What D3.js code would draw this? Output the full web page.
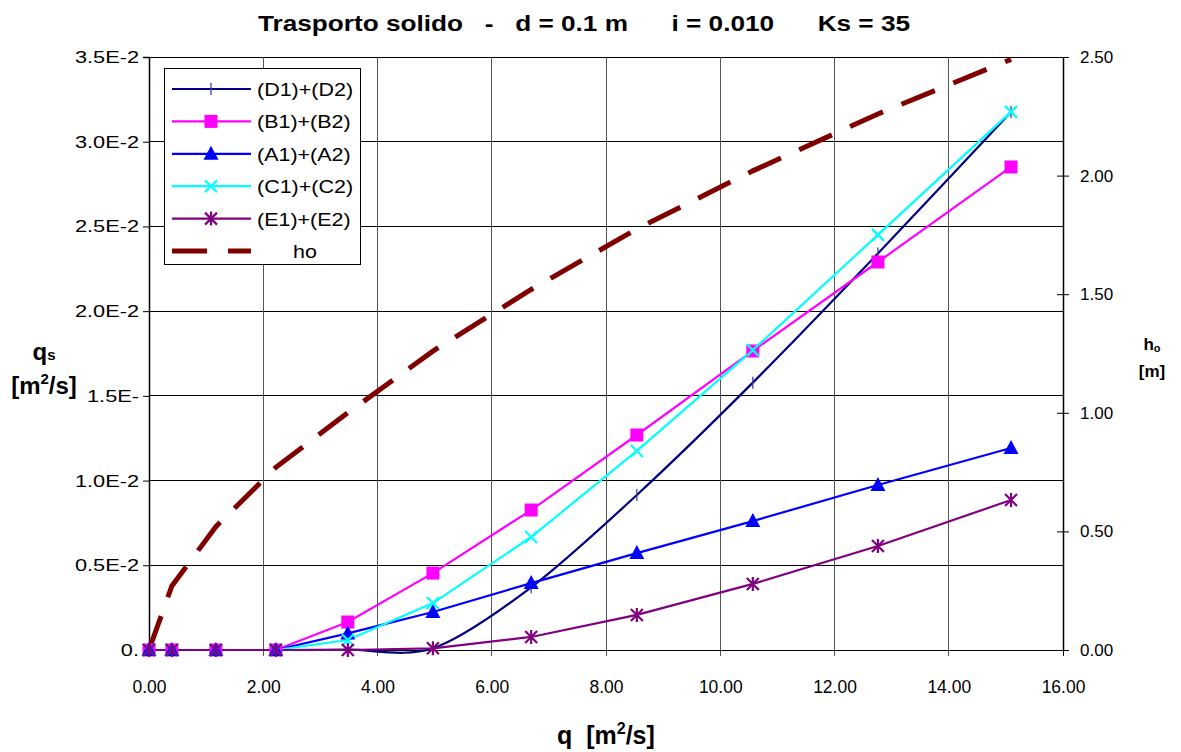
<!DOCTYPE html>
<html><head><meta charset="utf-8">
<script src="https://cdn.jsdelivr.net/npm/d3@7"></script>
<style>
html,body{margin:0;padding:0;background:#fff;}
svg{display:block;font-family:"Liberation Sans",Arial,sans-serif;}
</style></head>
<body><svg id="c" width="1181" height="752"></svg>
<script>
// ---- data ----
const q = [0, 0.40, 1.17, 2.22, 3.48, 4.97, 6.69, 8.54, 10.57, 12.76, 15.09];
const qsD = [0, 0, 0, 0, 0.00002, 0.0001, 0.0037, 0.00915, 0.01578, 0.0234, 0.03176];
const qsB = [0, 0, 0, 0, 0.00165, 0.00454, 0.00826, 0.01269, 0.01765, 0.0229, 0.02851];
const qsA = [0, 0, 0, 0, 0.00098, 0.00224, 0.00395, 0.00572, 0.00761, 0.00974, 0.01192];
const qsC = [0, 0, 0, 0, 0.00059, 0.00277, 0.00667, 0.01175, 0.0177, 0.0245, 0.03176];
const qsE = [0, 0, 0, 0, 0, 0.0001, 0.00077, 0.00207, 0.0039, 0.00614, 0.00885];
const ho  = [0, 0.27, 0.52, 0.77, 1.00, 1.26, 1.52, 1.775, 2.02, 2.26, 2.49];
const seriesNames = ["(D1)+(D2)", "(B1)+(B2)", "(A1)+(A2)", "(C1)+(C2)", "(E1)+(E2)", "ho"];
const xTicks = [0, 2, 4, 6, 8, 10, 12, 14, 16];
const xTickLabels = ["0.00","2.00","4.00","6.00","8.00","10.00","12.00","14.00","16.00"];
const leftTicks = [0, 0.005, 0.010, 0.015, 0.020, 0.025, 0.030, 0.035];
const leftTickLabels = ["0.", "0.5E-2", "1.0E-2", "1.5E-", "2.0E-2", "2.5E-2", "3.0E-2", "3.5E-2"];
const rightTicks = [0, 0.5, 1.0, 1.5, 2.0, 2.5];
const rightTickLabels = ["0.00","0.50","1.00","1.50","2.00","2.50"];
const titleText = "Trasporto solido   -   d = 0.1 m      i = 0.010      Ks = 35";

// ---- layout ----
const L = 149, R = 1063, T = 57, B = 650;
const svg = d3.select("#c");
const x = d3.scaleLinear().domain([0, 16]).range([L, R]);
const yL = d3.scaleLinear().domain([0, 0.035]).range([B, T]);
const yR = d3.scaleLinear().domain([0, 2.5]).range([B, T]);

function stretch(sel, k) {
  sel.each(function () { const w = this.getComputedTextLength(); d3.select(this).attr("textLength", w * k).attr("lengthAdjust", "spacingAndGlyphs"); });
}

// grid
const grid = svg.append("g");
grid.selectAll(".hg").data(leftTicks).join("line")
  .attr("x1", L).attr("x2", R).attr("y1", d => yL(d)).attr("y2", d => yL(d))
  .attr("stroke", "#000").attr("stroke-width", 1).attr("shape-rendering","crispEdges");
grid.selectAll(".vg").data(xTicks).join("line")
  .attr("x1", d => x(d)).attr("x2", d => x(d)).attr("y1", T).attr("y2", B + 6)
  .attr("stroke", d => (d === 0 || d === 16) ? "#000" : "#555").attr("stroke-width", 1)
  .attr("shape-rendering","crispEdges");

// left axis
const axL = svg.append("g").attr("transform", `translate(${L},0)`)
  .call(d3.axisLeft(yL).tickValues(leftTicks).tickFormat((d, i) => leftTickLabels[i]).tickSize(6).tickPadding(4));
axL.select(".domain").attr("stroke", "#000").attr("stroke-width", 1.5);
axL.selectAll(".tick line").attr("stroke", "#000");
axL.selectAll("text").attr("font-size", 17).attr("fill", "#000").attr("font-family", "Liberation Sans, Arial, sans-serif").call(stretch, 1.28);

// right axis
const axR = svg.append("g").attr("transform", `translate(${R},0)`)
  .call(d3.axisRight(yR).tickValues(rightTicks).tickFormat((d, i) => rightTickLabels[i]).tickSizeInner(6).tickSizeOuter(0).tickPadding(11));
axR.select(".domain").attr("stroke", "#000").attr("stroke-width", 1.5);
axR.selectAll(".tick line").attr("x1", -6).attr("x2", 6).attr("stroke", "#000");
axR.selectAll("text").attr("font-size", 17).attr("fill", "#000").attr("font-family", "Liberation Sans, Arial, sans-serif");

// bottom axis
const axB = svg.append("g").attr("transform", `translate(0,${B})`)
  .call(d3.axisBottom(x).tickValues(xTicks).tickFormat((d, i) => xTickLabels[i]).tickSize(0).tickPadding(30));
axB.select(".domain").attr("stroke", "#000").attr("stroke-width", 1);
axB.selectAll("text").attr("font-size", 18).attr("fill", "#000").attr("font-family", "Liberation Sans, Arial, sans-serif").call(stretch, 0.97);

// series
const series = [
  { name: seriesNames[0], vals: qsD, color: "#000080", marker: "tick", curve: d3.curveCardinal.tension(0.1) },
  { name: seriesNames[1], vals: qsB, color: "#FF00FF", marker: "square", curve: d3.curveLinear },
  { name: seriesNames[2], vals: qsA, color: "#0000FF", marker: "triangle", curve: d3.curveLinear },
  { name: seriesNames[3], vals: qsC, color: "#00FFFF", marker: "x", curve: d3.curveLinear },
  { name: seriesNames[4], vals: qsE, color: "#800080", marker: "star", curve: d3.curveLinear }
];

function drawMarker(g, type, color, cx, cy) {
  if (type === "tick") {
    g.append("line").attr("x1", cx).attr("x2", cx).attr("y1", cy - 6).attr("y2", cy + 6).attr("stroke", "#4040a0").attr("stroke-width", 1.3);
  } else if (type === "square") {
    g.append("rect").attr("x", cx - 6.5).attr("y", cy - 6.5).attr("width", 13).attr("height", 13).attr("fill", color);
  } else if (type === "triangle") {
    g.append("path").attr("d", `M${cx},${cy - 8}L${cx + 7.5},${cy + 6}L${cx - 7.5},${cy + 6}Z`).attr("fill", color);
  } else if (type === "x") {
    g.append("path").attr("d", `M${cx - 6},${cy - 6}L${cx + 6},${cy + 6}M${cx + 6},${cy - 6}L${cx - 6},${cy + 6}`).attr("stroke", color).attr("stroke-width", 2.2);
  } else if (type === "star") {
    g.append("path").attr("d", `M${cx - 6},${cy - 6}L${cx + 6},${cy + 6}M${cx + 6},${cy - 6}L${cx - 6},${cy + 6}M${cx},${cy - 7}L${cx},${cy + 7}`).attr("stroke", color).attr("stroke-width", 2.2);
  }
}

// ho dashed line (right axis)
const hoLine = d3.line().x((d, i) => x(q[i])).y(d => yR(d)).curve(d3.curveLinear);
svg.append("path").attr("d", hoLine(ho)).attr("fill", "none").attr("stroke", "#800000")
  .attr("stroke-width", 5).attr("stroke-dasharray", "36,20");

const sg = svg.append("g");
series.forEach(s => {
  const line = d3.line().x((d, i) => x(q[i])).y(d => yL(d)).curve(s.curve);
  sg.append("path").attr("d", line(s.vals)).attr("fill", "none").attr("stroke", s.color).attr("stroke-width", 2.2);
});
series.forEach(s => {
  const g = sg.append("g");
  s.vals.forEach((v, i) => drawMarker(g, s.marker, s.color, x(q[i]), yL(v)));
});

// legend
const lg = svg.append("g");
lg.append("rect").attr("x", 164.5).attr("y", 68.5).attr("width", 196).attr("height", 196).attr("fill", "#fff").attr("stroke", "#000").attr("stroke-width", 1);
const rowY = d3.scalePoint().domain(seriesNames).range([89, 251]);
series.forEach(s => {
  const yy = rowY(s.name);
  lg.append("line").attr("x1", 172).attr("x2", 251).attr("y1", yy).attr("y2", yy).attr("stroke", s.color).attr("stroke-width", 2.2);
  drawMarker(lg, s.marker, s.color, 211, yy);
  lg.append("text").attr("x", 257).attr("y", yy + 7).attr("font-size", 19).text(s.name).call(stretch, 1.13);
});
{
  const yy = rowY("ho");
  lg.append("line").attr("x1", 172).attr("x2", 251).attr("y1", yy).attr("y2", yy).attr("stroke", "#800000").attr("stroke-width", 5).attr("stroke-dasharray", "35,21");
  lg.append("text").attr("x", 293).attr("y", yy + 7).attr("font-size", 19).text("ho").call(stretch, 1.13);
}

// title
svg.append("text").attr("x", 258).attr("y", 31).attr("font-size", 22).attr("font-weight", "bold")
  .style("white-space", "pre").attr("textLength", 652).attr("lengthAdjust", "spacingAndGlyphs").text(titleText);

// x axis title
const xt = svg.append("text").attr("x", 557).attr("y", 744).attr("font-size", 25).attr("font-weight", "bold").style("white-space", "pre");
xt.append("tspan").text("q  [m");
xt.append("tspan").attr("dy", -10).attr("font-size", 16).text("2");
xt.append("tspan").attr("dy", 10).text("/s]");

// left axis title
const lt1 = svg.append("text").attr("x", 44).attr("y", 360).attr("text-anchor", "middle").attr("font-size", 24).attr("font-weight", "bold");
lt1.append("tspan").text("q");
lt1.append("tspan").attr("font-size", 15).text("s");
const lt2 = svg.append("text").attr("x", 44).attr("y", 394).attr("text-anchor", "middle").attr("font-size", 24).attr("font-weight", "bold");
lt2.append("tspan").text("[m");
lt2.append("tspan").attr("dy", -10).attr("font-size", 15).text("2");
lt2.append("tspan").attr("dy", 10).text("/s]");

// right axis title
const rt1 = svg.append("text").attr("x", 1152).attr("y", 350).attr("text-anchor", "middle").attr("font-size", 17).attr("font-weight", "bold");
rt1.append("tspan").text("h");
rt1.append("tspan").attr("font-size", 11).attr("dy", 2).text("o");
svg.append("text").attr("x", 1152).attr("y", 377).attr("text-anchor", "middle").attr("font-size", 17).attr("font-weight", "bold").text("[m]");
</script></body></html>
